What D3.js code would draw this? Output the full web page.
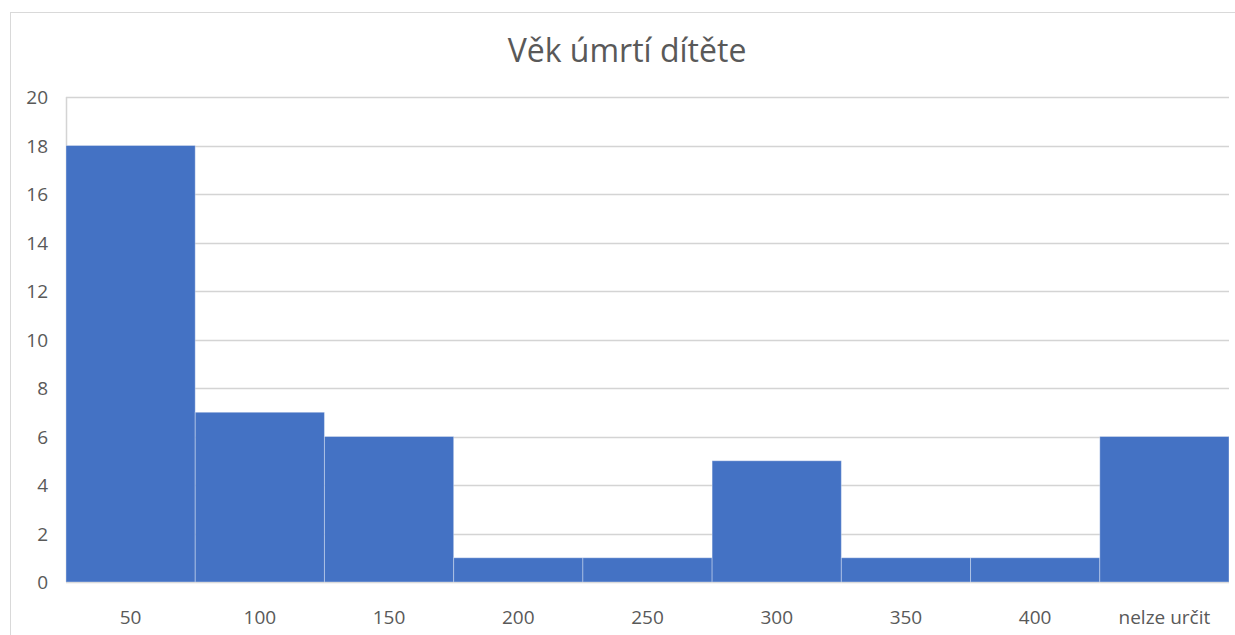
<!DOCTYPE html>
<html>
<head>
<meta charset="utf-8">
<script src="https://cdn.jsdelivr.net/npm/d3@7"></script>
<style>
  body { margin: 0; background: #fff; }
  svg text { font-family: "Open Sans", "Noto Sans", sans-serif; fill: #595959; }
</style>
</head>
<body>
<div class="chart"></div>
<script>
// chart data
const categories = ['50', '100', '150', '200', '250', '300', '350', '400', 'nelze určit'];
const counts = [18, 7, 6, 1, 1, 5, 1, 1, 6];
const yTicks = [0, 2, 4, 6, 8, 10, 12, 14, 16, 18, 20];
const title = 'Věk úmrtí dítěte';

const width = 1235;
const height = 635;
const margin = {top: 97, right: 6, bottom: 53, left: 66};

const svg = d3.select('.chart')
  .append('svg')
  .attr('width', width)
  .attr('height', height);

// outer chart border (top and left visible)
svg.append('rect')
  .attr('x', 10.5)
  .attr('y', 12.5)
  .attr('width', 1240)
  .attr('height', 640)
  .style('fill', 'none')
  .style('stroke', '#d9d9d9');

// title
svg.append('text')
  .attr('x', 627)
  .attr('y', 62)
  .attr('text-anchor', 'middle')
  .attr('font-size', 32)
  .text(title);

// scales
let x = d3.scaleBand()
  .domain(categories)
  .range([margin.left, width - margin.right])
  .padding(0);

let y = d3.scaleLinear()
  .domain([0, 20])
  .range([height - margin.bottom, margin.top]);

// gridlines
svg.append('g')
  .selectAll('line')
  .data(yTicks)
  .enter()
  .append('line')
  .attr('x1', margin.left)
  .attr('x2', width - margin.right)
  .attr('y1', d => Math.round(y(d)) + 0.5)
  .attr('y2', d => Math.round(y(d)) + 0.5)
  .style('stroke', '#d4d4d4')
  .style('stroke-width', 1.5);

// left axis line
svg.append('line')
  .attr('x1', margin.left + 0.5)
  .attr('x2', margin.left + 0.5)
  .attr('y1', y(20))
  .attr('y2', y(0))
  .style('stroke', '#d4d4d4')
  .style('stroke-width', 1.5);

// bars
svg.append('g')
  .selectAll('rect')
  .data(counts)
  .enter()
  .append('rect')
  .attr('x', (d, i) => x(categories[i]))
  .attr('y', d => y(d))
  .attr('width', x.bandwidth())
  .attr('height', d => y(0) - y(d))
  .style('fill', '#4472c4')
  .style('stroke', '#ffffff')
  .style('stroke-opacity', 0.35)
  .style('stroke-width', 1);

// y tick labels
svg.append('g')
  .selectAll('text')
  .data(yTicks)
  .enter()
  .append('text')
  .attr('x', 48)
  .attr('y', d => y(d) + 7)
  .attr('text-anchor', 'end')
  .attr('font-size', 19)
  .text(d => d);

// x tick labels
svg.append('g')
  .selectAll('text')
  .data(categories)
  .enter()
  .append('text')
  .attr('x', d => x(d) + x.bandwidth() / 2)
  .attr('y', 624)
  .attr('text-anchor', 'middle')
  .attr('font-size', 19)
  .text(d => d);
</script>
</body>
</html>
